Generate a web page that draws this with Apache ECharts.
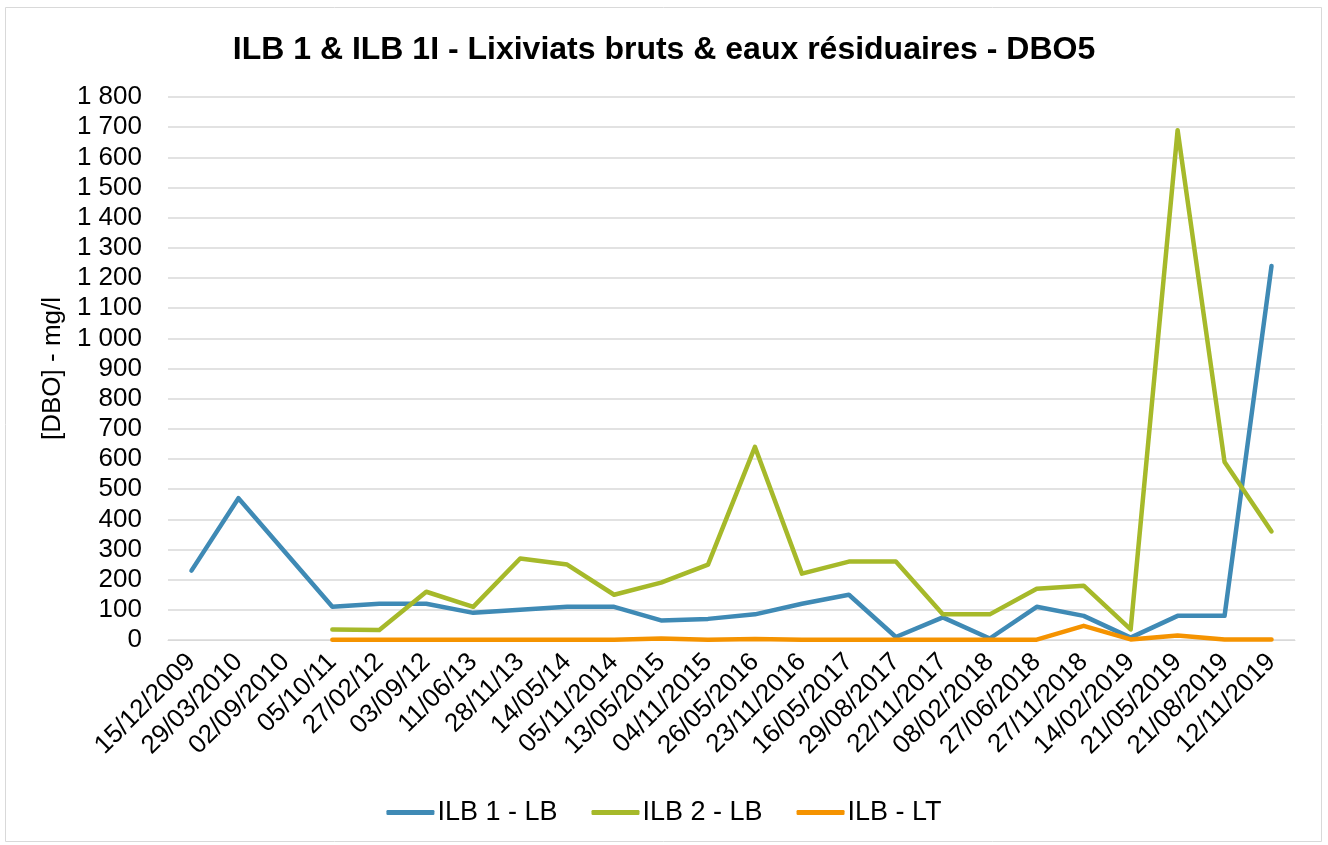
<!DOCTYPE html>
<html>
<head>
<meta charset="utf-8">
<script src="https://cdn.jsdelivr.net/npm/echarts@6/dist/echarts.min.js"></script>
<style>
  html, body { margin: 0; padding: 0; background: #fff; }
  #chart { width: 1328px; height: 845px; }
</style>
</head>
<body>
<div id="chart"></div>
<script>
const dates = ['15/12/2009', '29/03/2010', '02/09/2010', '05/10/11', '27/02/12', '03/09/12', '11/06/13', '28/11/13',
  '14/05/14', '05/11/2014', '13/05/2015', '04/11/2015', '26/05/2016', '23/11/2016', '16/05/2017', '29/08/2017',
  '22/11/2017', '08/02/2018', '27/06/2018', '27/11/2018', '14/02/2019', '21/05/2019', '21/08/2019', '12/11/2019'];

const ilb1Lb = [230, 470, 290, 110, 120, 120, 90, 100, 110, 110, 65, 70, 85, 120, 150, 10, 75, 5, 110, 80, 8, 80, 80, 1240];
const ilb2Lb = [null, null, null, 35, 33, 160, 110, 270, 250, 150, 190, 250, 640, 220, 260, 260, 85, 85, 170, 180, 35, 1690, 590, 360];
const ilbLt = [null, null, null, 1, 1, 1, 1, 1, 1, 1, 5, 1, 3, 1, 1, 1, 1, 1, 1, 47, 2, 15, 2, 2];

const font = 'Liberation Sans, Arial, sans-serif';
const colors = { blue: '#3f8ab5', green: '#a6b92a', orange: '#f59300', grid: '#d9d9d9', text: '#000' };

function spaced(v) {
  return String(v).replace(/\B(?=(\d{3})+(?!\d))/g, ' ');
}

function lineSeries(name, data, color) {
  return {
    name,
    type: 'line',
    data,
    symbol: 'none',
    smooth: false,
    lineStyle: { width: 4.5, color, cap: 'round', join: 'round' },
    itemStyle: { color }
  };
}

const chart = echarts.init(document.getElementById('chart'), null, { renderer: 'canvas' });
chart.setOption({
  animation: false,
  textStyle: { fontFamily: font },
  title: {
    text: 'ILB 1 & ILB 1I - Lixiviats bruts & eaux résiduaires - DBO5',
    left: 'center',
    top: 29,
    textStyle: { fontFamily: font, fontSize: 32, fontWeight: 'bold', color: colors.text }
  },
  graphic: [{
    type: 'rect',
    shape: { x: 5.5, y: 7.5, width: 1316, height: 834 },
    style: { fill: 'none', stroke: colors.grid, lineWidth: 1 },
    silent: true
  }],
  legend: {
    bottom: 14,
    left: 'center',
    icon: 'roundRect',
    itemWidth: 48,
    itemHeight: 5,
    itemGap: 34,
    textStyle: { fontFamily: font, fontSize: 27, color: colors.text, padding: [0, 0, 0, -2] },
    data: ['ILB 1 - LB', 'ILB 2 - LB', 'ILB - LT']
  },
  grid: { left: 168, right: 33, top: 97, bottom: 205, containLabel: false },
  xAxis: {
    type: 'category',
    data: dates,
    boundaryGap: true,
    axisLine: { lineStyle: { color: colors.grid, width: 1 } },
    axisTick: { show: false },
    axisLabel: { rotate: 45, fontFamily: font, fontSize: 26, color: colors.text, margin: 18, interval: 0 }
  },
  yAxis: {
    type: 'value',
    min: 0,
    max: 1800,
    interval: 100,
    name: '[DBO] - mg/l',
    nameLocation: 'middle',
    nameGap: 98,
    nameRotate: 90,
    nameTextStyle: { fontFamily: font, fontSize: 26, color: colors.text },
    axisLine: { show: false },
    axisTick: { show: false },
    axisLabel: { fontFamily: font, fontSize: 26, color: colors.text, margin: 26, formatter: spaced },
    splitLine: { lineStyle: { color: colors.grid, width: 1.5 } }
  },
  series: [
    lineSeries('ILB 1 - LB', ilb1Lb, colors.blue),
    lineSeries('ILB 2 - LB', ilb2Lb, colors.green),
    lineSeries('ILB - LT', ilbLt, colors.orange)
  ]
});
</script>
</body>
</html>
